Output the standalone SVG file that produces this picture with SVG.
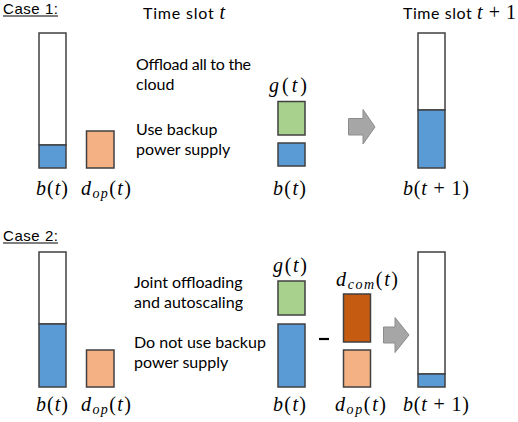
<svg xmlns="http://www.w3.org/2000/svg" width="518" height="422" viewBox="0 0 518 422">
<style>
.t{font-family:Lato,"Liberation Sans",sans-serif;font-size:16px;fill:#000}
.c{font-family:"Liberation Sans",sans-serif;font-size:15px;fill:#000}
.m{font-family:"Liberation Serif","DejaVu Serif",serif;font-size:20px;fill:#000}
.i{font-style:italic}
.s{font-size:14px;font-style:italic}
.box{stroke:#404040;stroke-width:1.5}
.w{fill:#fff}.b{fill:#5B9BD5}.o{fill:#F4B183}.g{fill:#A9D18E}.d{fill:#C55A11}
.arr{fill:#A6A6A6;stroke:#8C8C8C;stroke-width:1}
.ul{stroke:#000;stroke-width:1.2}
</style>
<rect width="518" height="422" fill="#fff"/>
<g id="case1">
<text class="c" x="3" y="14" textLength="55">Case 1:</text>
<line class="ul" x1="3" y1="16" x2="58" y2="16"/>
<text class="t" x="143" y="19" textLength="82">Time slot <tspan class="m i" font-size="19">t</tspan></text>
<text class="t" x="403" y="19" textLength="113">Time slot <tspan class="m i" font-size="19">t</tspan><tspan class="m" font-size="19"> + 1</tspan></text>
<text class="t" x="136" y="70" textLength="115">Offload all to the</text>
<text class="t" x="136" y="90">cloud</text>
<text class="t" x="136" y="135">Use backup</text>
<text class="t" x="136" y="155">power supply</text>
</g>
<g id="c1-battery">
<rect class="box w" x="39" y="33" width="27" height="112"/>
<rect class="box b" x="39" y="145" width="27" height="23"/>
<text class="m" x="36" y="195" textLength="32"><tspan class="i">b</tspan>(<tspan class="i">t</tspan>)</text>
</g>
<g id="c1-dop">
<rect class="box o" x="86.5" y="131" width="27.5" height="37"/>
<text class="m" x="81" y="195" textLength="50"><tspan class="i">d</tspan><tspan class="s" dy="3">op</tspan><tspan dy="-3">(</tspan><tspan class="i">t</tspan>)</text>
</g>
<g id="c1-g">
<rect class="box g" x="278" y="101.5" width="27" height="33.5"/>
<text class="m" x="269" y="92" textLength="38"><tspan class="i">g</tspan>(<tspan class="i">t</tspan>)</text>
</g>
<g id="c1-b">
<rect class="box b" x="278" y="143" width="27" height="23"/>
<text class="m" x="273" y="195" textLength="33"><tspan class="i">b</tspan>(<tspan class="i">t</tspan>)</text>
</g>
<g id="c1-next">
<rect class="box w" x="418" y="33" width="27" height="77"/>
<rect class="box b" x="418" y="110" width="27" height="58"/>
<text class="m" x="403" y="195" textLength="66"><tspan class="i">b</tspan>(<tspan class="i">t</tspan> + 1)</text>
</g>
<g id="case2">
<text class="c" x="3" y="241" textLength="55">Case 2:</text>
<line class="ul" x1="3" y1="243" x2="58" y2="243"/>
<text class="t" x="134" y="288">Joint offloading</text>
<text class="t" x="134" y="308">and autoscaling</text>
<text class="t" x="134" y="348">Do not use backup</text>
<text class="t" x="134" y="368">power supply</text>
</g>
<g id="c2-battery">
<rect class="box w" x="39" y="252" width="27" height="72"/>
<rect class="box b" x="39" y="324" width="27" height="63"/>
<text class="m" x="36" y="411" textLength="32"><tspan class="i">b</tspan>(<tspan class="i">t</tspan>)</text>
</g>
<g id="c2-dop">
<rect class="box o" x="86.5" y="350" width="27.5" height="37"/>
<text class="m" x="81" y="411" textLength="50"><tspan class="i">d</tspan><tspan class="s" dy="3">op</tspan><tspan dy="-3">(</tspan><tspan class="i">t</tspan>)</text>
</g>
<g id="c2-g">
<rect class="box g" x="278" y="281" width="27" height="34"/>
<text class="m" x="273" y="272" textLength="34"><tspan class="i">g</tspan>(<tspan class="i">t</tspan>)</text>
</g>
<g id="c2-b">
<rect class="box b" x="278" y="324" width="27" height="63"/>
<text class="m" x="273" y="411" textLength="33"><tspan class="i">b</tspan>(<tspan class="i">t</tspan>)</text>
</g>
<g id="minus">
<line x1="319" y1="339" x2="329" y2="339" stroke="#000" stroke-width="2.2"/>
</g>
<g id="c2-dcom">
<rect class="box d" x="343.5" y="294" width="27" height="48"/>
<text class="m" x="336" y="286" textLength="62"><tspan class="i">d</tspan><tspan class="s" dy="3">com</tspan><tspan dy="-3">(</tspan><tspan class="i">t</tspan>)</text>
</g>
<g id="c2-dop2">
<rect class="box o" x="343.5" y="350" width="27" height="37"/>
<text class="m" x="335" y="411" textLength="51"><tspan class="i">d</tspan><tspan class="s" dy="3">op</tspan><tspan dy="-3">(</tspan><tspan class="i">t</tspan>)</text>
</g>
<g id="c2-next">
<rect class="box w" x="418" y="252" width="27" height="122"/>
<rect class="box b" x="418" y="374" width="27" height="13"/>
<text class="m" x="403" y="411" textLength="66"><tspan class="i">b</tspan>(<tspan class="i">t</tspan> + 1)</text>
</g>
<g id="connectors">
<polygon class="arr" points="348.5,118.5 363,118.5 363,109.5 375,127 363,144 363,135 348.5,135"/>
<polygon class="arr" points="383.5,327 395,327 395,317.5 409,335 395,352.5 395,343 383.5,343"/>
</g>
</svg>
